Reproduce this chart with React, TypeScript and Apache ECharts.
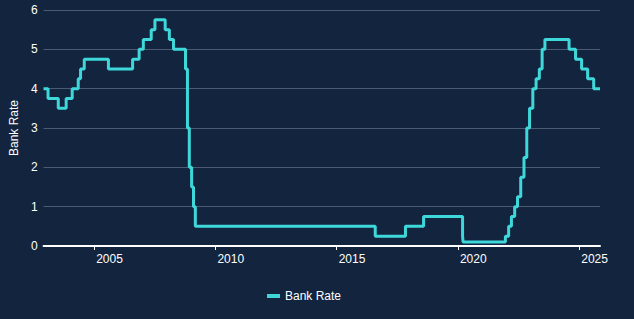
import React, { useEffect, useRef } from "react";
import * as echarts from "echarts";

// Bank Rate change dates and the new rate set on each date
const changeDates: string[] = [
  "2002-12-01", "2003-02-06", "2003-07-10", "2003-11-06", "2004-02-05", "2004-05-06",
  "2004-06-10", "2004-08-05", "2005-08-04", "2006-08-03", "2006-11-09", "2007-01-11",
  "2007-05-10", "2007-07-05", "2007-12-06", "2008-02-07", "2008-04-10", "2008-10-08",
  "2008-11-06", "2008-12-04", "2009-01-08", "2009-02-05", "2009-03-05", "2016-08-04",
  "2017-11-02", "2018-08-02", "2020-03-11", "2020-03-19", "2021-12-16", "2022-02-03",
  "2022-03-17", "2022-05-05", "2022-06-16", "2022-08-04", "2022-09-22", "2022-11-03",
  "2022-12-15", "2023-02-02", "2023-03-23", "2023-05-11", "2023-06-22", "2023-08-03",
  "2024-08-01", "2024-11-07", "2025-02-06", "2025-05-08", "2025-08-07", "2025-11-10",
];
const rates: number[] = [
  4.0, 3.75, 3.5, 3.75, 4.0, 4.25,
  4.5, 4.75, 4.5, 4.75, 5.0, 5.25,
  5.5, 5.75, 5.5, 5.25, 5.0, 4.5,
  3.0, 2.0, 1.5, 1.0, 0.5, 0.25,
  0.5, 0.75, 0.25, 0.1, 0.25, 0.5,
  0.75, 1.0, 1.25, 1.75, 2.25, 3.0,
  3.5, 4.0, 4.25, 4.5, 5.0, 5.25,
  5.0, 4.75, 4.5, 4.25, 4.0, 4.0,
];
const yearTicks: number[] = [2005, 2010, 2015, 2020, 2025];
const seriesName = "Bank Rate";

function toDecimalYear(s: string): number {
  const d = new Date(s + "T00:00:00Z");
  const y = d.getUTCFullYear();
  const start = Date.UTC(y, 0, 1);
  const end = Date.UTC(y + 1, 0, 1);
  return y + (d.getTime() - start) / (end - start);
}

export default function App() {
  const ref = useRef<HTMLDivElement>(null);
  useEffect(() => {
    if (!ref.current) return;
    document.body.style.margin = "0";
    const chart = echarts.init(ref.current, undefined, { renderer: "svg" });
    const data = changeDates.map((d, i) => [toDecimalYear(d), rates[i]]);
    const xMin = data[0][0];
    const xMax = data[data.length - 1][0];
    const font = "Liberation Sans, Arial, sans-serif";
    chart.setOption({
      animation: false,
      backgroundColor: "#13253e",
      grid: { left: 39, right: 34, top: 10, bottom: 73 },
      legend: {
        top: 285,
        left: 262,
        itemWidth: 13,
        itemHeight: 4,
        icon: "rect",
        textStyle: { color: "#ffffff", fontSize: 12, fontFamily: font },
        data: [seriesName],
      },
      xAxis: {
        type: "value",
        min: xMin,
        max: xMax,
        axisLine: { show: true, lineStyle: { color: "#ffffff", width: 2 } },
        axisTick: {
          show: true,
          length: 4,
          lineStyle: { color: "#ffffff", width: 1 },
          customValues: yearTicks,
        },
        axisLabel: {
          color: "#ffffff",
          fontSize: 12,
          fontFamily: font,
          margin: 7,
          align: "left",
          padding: [0, 0, 0, 2],
          customValues: yearTicks,
          formatter: (v: number) => String(Math.round(v)),
        },
        splitLine: { show: false },
      },
      yAxis: {
        type: "value",
        min: 0,
        max: 6,
        interval: 1,
        name: "Bank Rate",
        nameLocation: "middle",
        nameGap: 23,
        nameTextStyle: { color: "#ffffff", fontSize: 12, fontFamily: font },
        axisLine: { show: false },
        axisTick: { show: false },
        axisLabel: { color: "#ffffff", fontSize: 12, fontFamily: font, margin: 6 },
        splitLine: { show: true, lineStyle: { color: "#4a5b72", width: 1 } },
      },
      series: [
        {
          name: seriesName,
          type: "line",
          step: "end",
          data,
          showSymbol: false,
          symbol: "none",
          lineStyle: { color: "#3fd8da", width: 3 },
          itemStyle: { color: "#3fd8da" },
        },
      ],
    });
    return () => chart.dispose();
  }, []);
  return <div ref={ref} style={{ width: 634, height: 319 }} />;
}
